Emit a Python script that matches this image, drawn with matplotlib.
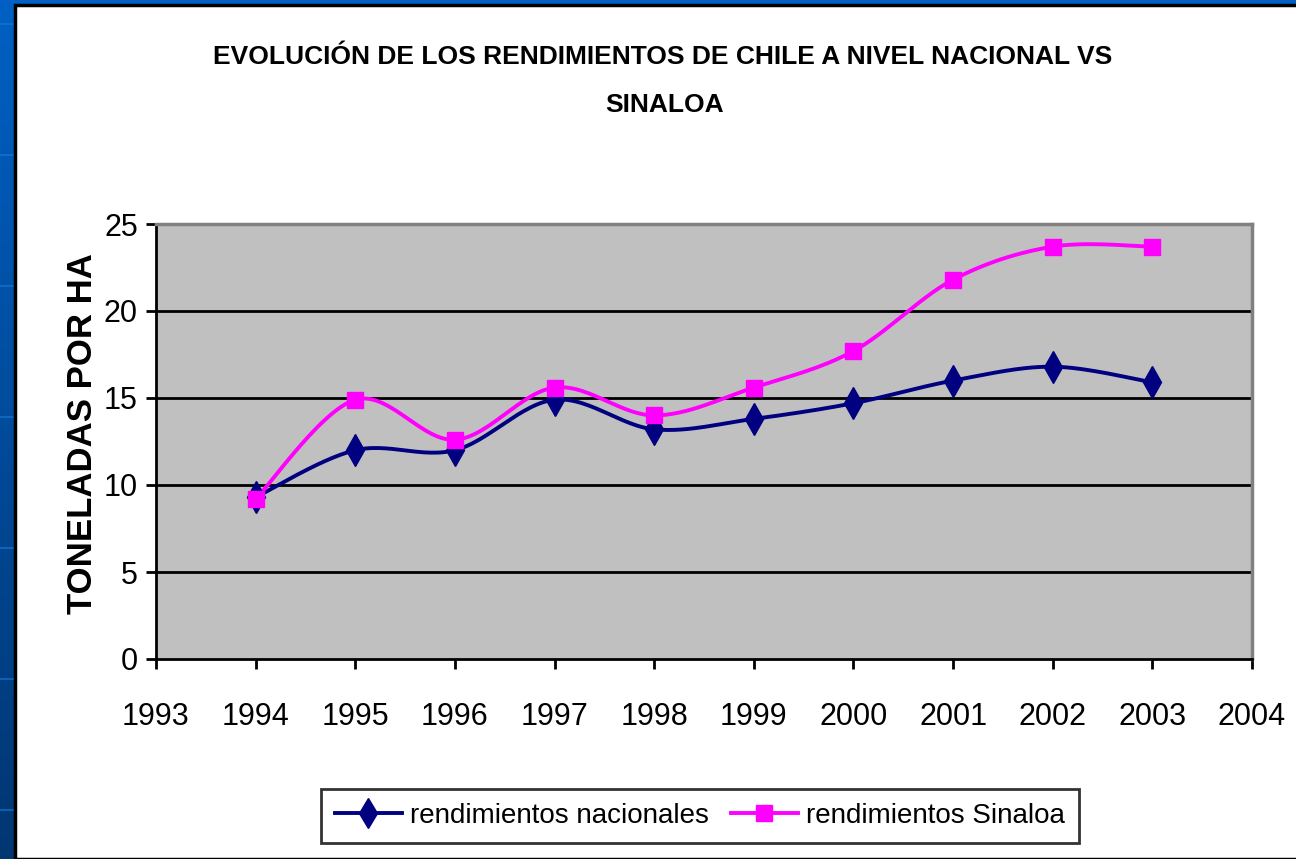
import numpy as np
import matplotlib.pyplot as plt
from matplotlib.patches import Rectangle

plt.rcParams['font.family'] = ['Liberation Sans', 'DejaVu Sans']

years = [1994, 1995, 1996, 1997, 1998, 1999, 2000, 2001, 2002, 2003]
nacional = [9.3, 12.0, 12.0, 14.9, 13.2, 13.8, 14.7, 16.0, 16.8, 15.9]
sinaloa = [9.2, 14.9, 12.6, 15.6, 14.0, 15.6, 17.7, 21.8, 23.7, 23.7]
yticks = [0, 5, 10, 15, 20, 25]
xticks = list(range(1993, 2005))


def smooth(x, y, n=30):
    # excel style smoothed line: catmull-rom as cubic bezier segments
    x = np.asarray(x, float)
    y = np.asarray(y, float)
    px = np.concatenate([[x[0]], x, [x[-1]]])
    py = np.concatenate([[y[0]], y, [y[-1]]])
    xs, ys = [], []
    t = np.linspace(0, 1, n)
    for i in range(1, len(x)):
        p0 = np.array([px[i], py[i]])
        p1 = np.array([px[i + 1], py[i + 1]])
        c1 = p0 + (p1 - np.array([px[i - 1], py[i - 1]])) / 6
        c2 = p1 - (np.array([px[i + 2], py[i + 2]]) - p0) / 6
        pts = (((1 - t) ** 3)[:, None] * p0 + (3 * (1 - t) ** 2 * t)[:, None] * c1
               + (3 * (1 - t) * t ** 2)[:, None] * c2 + (t ** 3)[:, None] * p1)
        xs.extend(pts[:, 0])
        ys.extend(pts[:, 1])
    return xs, ys


fig = plt.figure(figsize=(12.96, 8.59), dpi=100)

# slide background (blue) behind white chart area
bg = fig.add_axes([0, 0, 1, 1])
grad = np.linspace(0, 1, 256)[:, None]
bg.imshow(grad, extent=[0, 1, 0, 1], aspect='auto', origin='upper',
          cmap=plt.matplotlib.colors.LinearSegmentedColormap.from_list(
              'b', ['#0060C4', '#003672']))
for yy in [24, 155, 286, 417, 548, 679, 810]:
    bg.axhline(1 - yy / 859, xmax=15 / 1296, color='#1A78D8', lw=1.5, alpha=0.6)
bg.add_patch(Rectangle((15 / 1296, 0), 1, 1 - 5 / 859, facecolor='white',
                       edgecolor='black', lw=2.5, zorder=3))
bg.set_xlim(0, 1)
bg.set_ylim(0, 1)
bg.axis('off')

ax = fig.add_axes([156 / 1296, 1 - 659 / 859, 1096 / 1296, 435 / 859])
ax.set_facecolor('#C0C0C0')

for v in yticks[1:-1]:
    ax.axhline(v, color='black', lw=2, zorder=1)

sx, sy = smooth(years, nacional)
ax.plot(sx, sy, color='#000080', lw=2.8, zorder=3)
ax.plot(years, nacional, ls='none', marker='d', ms=16, color='#000080', zorder=4)
sx, sy = smooth(years, sinaloa)
ax.plot(sx, sy, color='#FF00FF', lw=2.8, zorder=3)
ax.plot(years, sinaloa, ls='none', marker='s', ms=12, color='#FF00FF', zorder=5)

ax.set_xlim(1993, 2004)
ax.set_ylim(0, 25)
ax.set_xticks(xticks)
ax.set_yticks(yticks)
ax.tick_params(axis='both', direction='out', length=7, width=2, labelsize=22,
               color='black')
ax.tick_params(axis='x', pad=24)
ax.tick_params(axis='y', pad=6)
for s in ['left', 'bottom']:
    ax.spines[s].set_color('black')
    ax.spines[s].set_linewidth(2)
for s in ['top', 'right']:
    ax.spines[s].set_color('#808080')
    ax.spines[s].set_linewidth(2.5)

fig.text(83 / 1296, 1 - 434 / 859, 'TONELADAS POR HA', rotation=90,
         ha='center', va='center', fontsize=25, fontweight='bold')
fig.text(663 / 1296, 1 - 57 / 859,
         'EVOLUCIÓN DE LOS RENDIMIENTOS DE CHILE A NIVEL NACIONAL VS',
         ha='center', va='center', fontsize=19, fontweight='bold')
fig.text(665 / 1296, 1 - 105 / 859, 'SINALOA', ha='center', va='center',
         fontsize=19, fontweight='bold')

h1, = ax.plot([], [], color='#000080', lw=2.8, marker='d', ms=15)
h2, = ax.plot([], [], color='#FF00FF', lw=2.8, marker='s', ms=12)
leg = fig.legend([h1, h2], ['rendimientos nacionales', 'rendimientos Sinaloa'],
                 loc='center', bbox_to_anchor=(700 / 1296, 1 - 816 / 859),
                 ncol=2, fontsize=20, frameon=True, fancybox=False,
                 edgecolor='black', handlelength=2.4, columnspacing=0.8,
                 handletextpad=0.3, borderpad=0.5)
leg.get_frame().set_linewidth(2)

fig.savefig('out.png', dpi=100)
